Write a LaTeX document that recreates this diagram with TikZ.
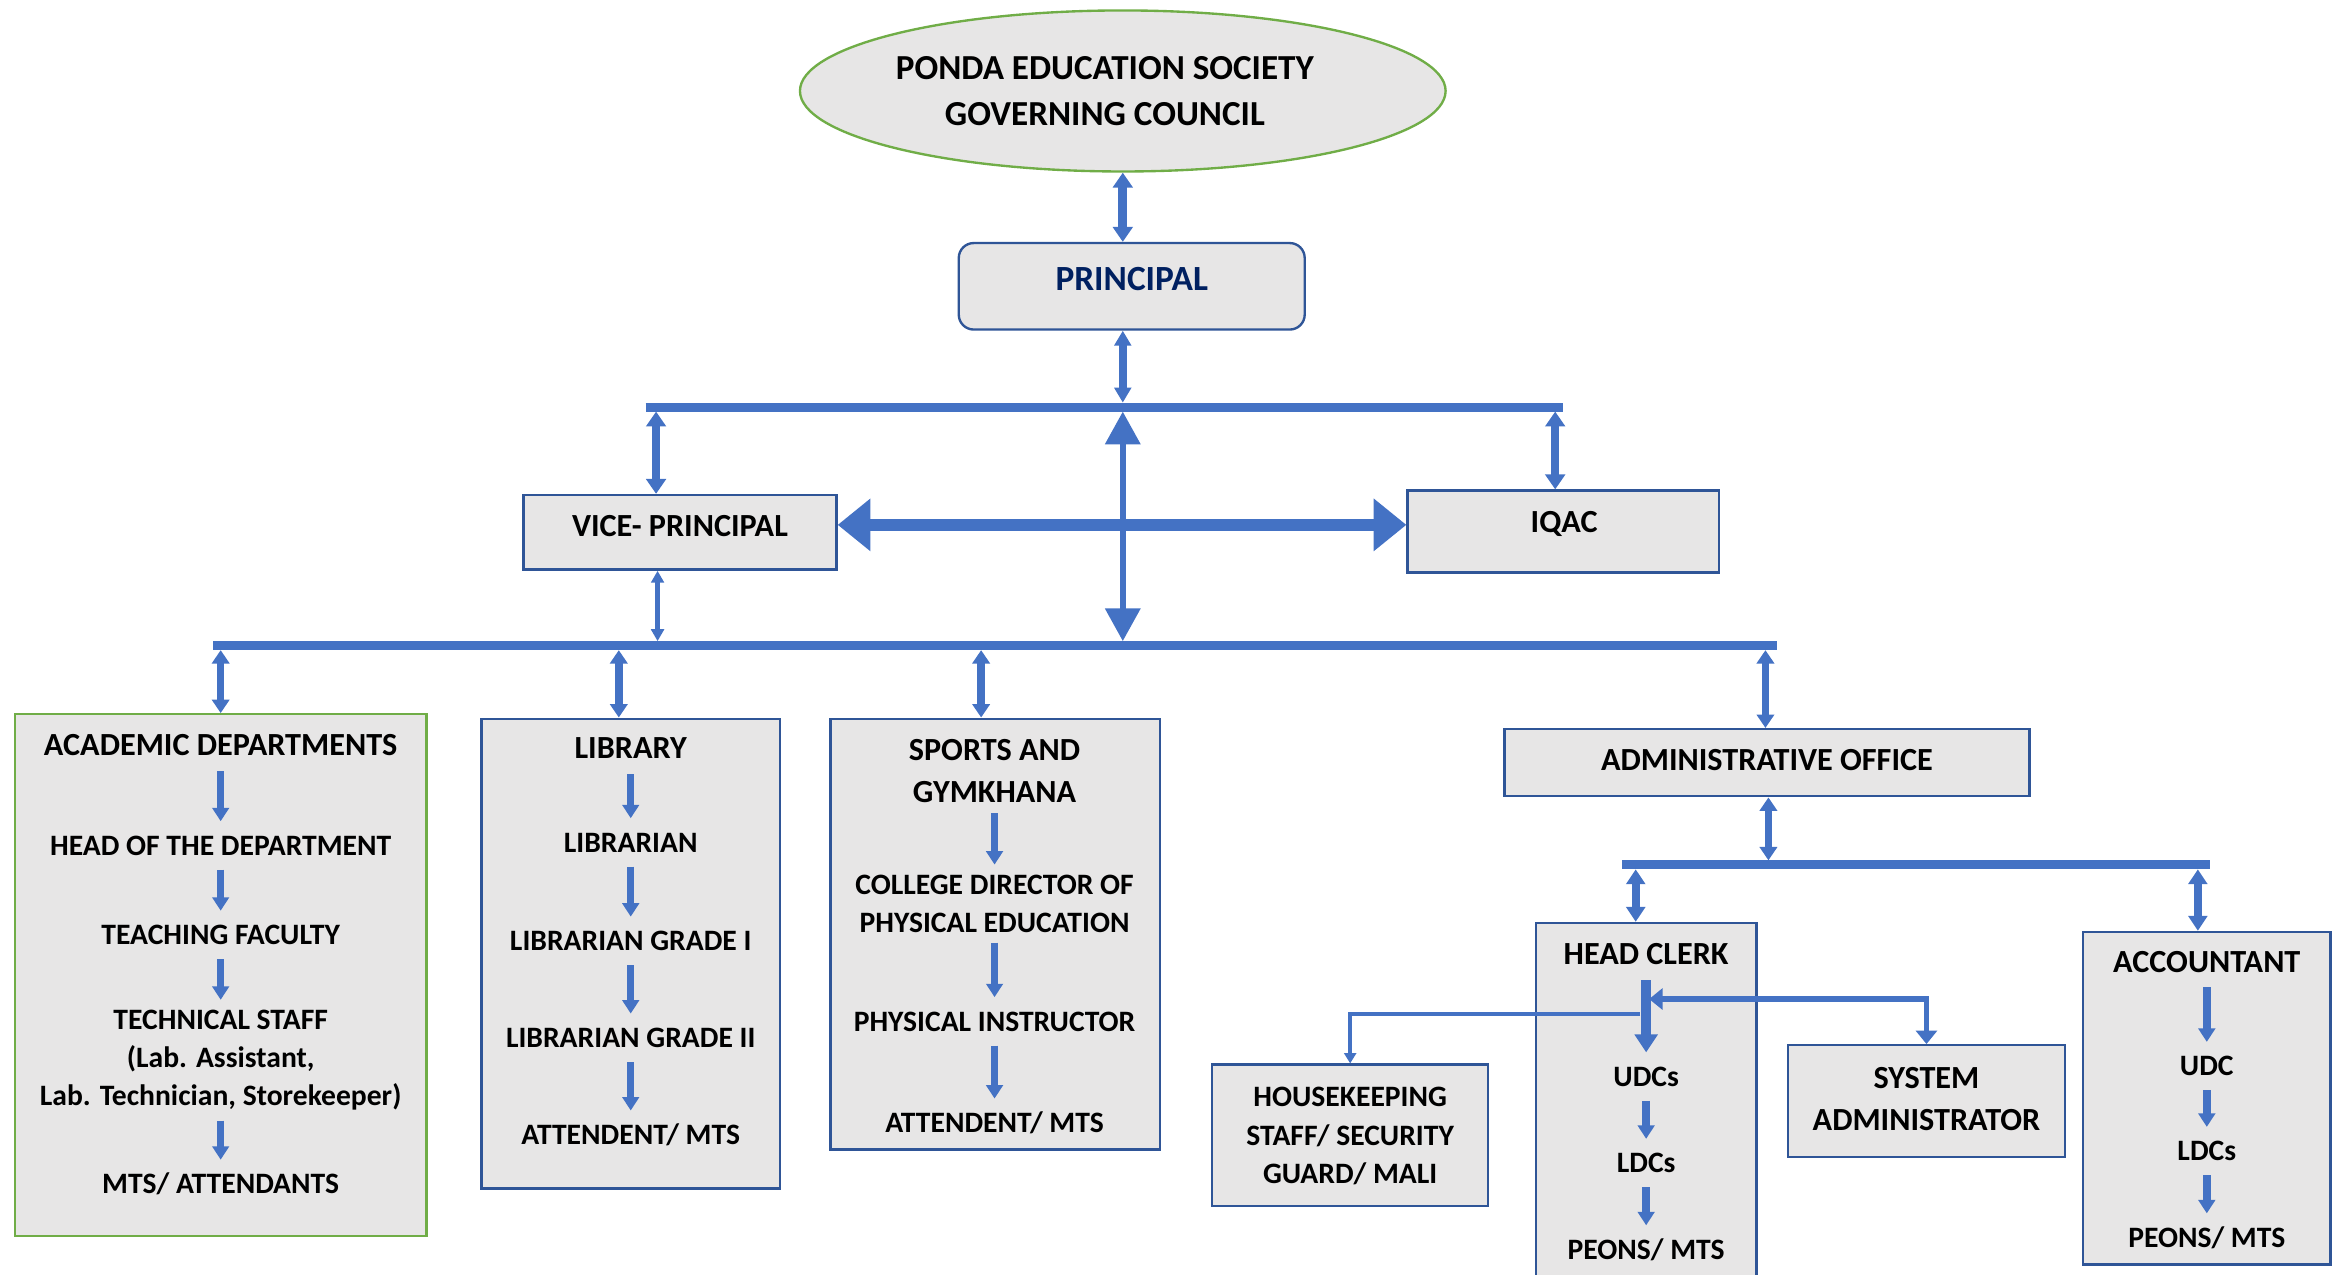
\documentclass[tikz,border=0pt]{standalone}
\usepackage{fontspec}
\setmainfont{Carlito}
\usetikzlibrary{arrows.meta,shapes.geometric}
\definecolor{arrowblue}{HTML}{4472C4}
\definecolor{edgeblue}{HTML}{2F5597}
\definecolor{boxgray}{HTML}{E7E6E6}
\definecolor{leafgreen}{HTML}{70AD47}
\definecolor{navy}{HTML}{002060}
\tikzset{
  frame/.style={rectangle, draw=edgeblue, line width=0.9pt, fill=boxgray, inner sep=0pt},
  txt/.style={font=\bfseries\fontsize{11.3}{14.6}\selectfont, align=center, inner sep=0pt, outer sep=1.35mm},
  item/.style={txt, text height=3.2mm, text depth=0.6mm},
  bigtxt/.style={txt, font=\bfseries\fontsize{12.3}{16.3}\selectfont},
  head/.style={bigtxt, text height=3.5mm, text depth=0.7mm},
  bar/.style={draw=arrowblue, line width=1.2mm},
  twoway/.style n args={3}{draw=arrowblue, line width=#1, >={Triangle[length=#2, width=#3]}, <->},
  oneway/.style n args={3}{draw=arrowblue, line width=#1, >={Triangle[length=#2, width=#3]}, ->},
  down/.style={oneway={1mm}{1.8mm}{2.2mm}}
}
\begin{document}
\begin{tikzpicture}[x=0.2mm, y=-0.2mm]
  \useasboundingbox (0,0) rectangle (1568,855);

  \node[ellipse, draw=leafgreen, line width=0.9pt, fill=boxgray, minimum width=86.6mm, minimum height=21.6mm, inner sep=0pt] (pes) at (753,61) {};
  \node[txt, font=\bfseries\fontsize{13.4}{17.6}\selectfont] (pestext) at (741,61) {PONDA EDUCATION SOCIETY\\GOVERNING COUNCIL};

  \node[frame, rounded corners=2mm, minimum width=46.4mm, minimum height=11.6mm] (prin) at (759,192) {};
  \node[head, font=\bfseries\fontsize{13.5}{16}\selectfont, text=navy] (printext) at (759,188) {PRINCIPAL};

  \node[frame, minimum width=42mm, minimum height=10mm] (vp) at (456,357) {};
  \node[head] (vptext) at (456,353) {VICE- PRINCIPAL};
  \node[frame, minimum width=41.8mm, minimum height=11mm] (iqac) at (1048.5,356.5) {};
  \node[head] (iqactext) at (1049,350) {IQAC};

  \node[frame, draw=leafgreen, minimum width=55.2mm, minimum height=70mm] (acad) at (148,654) {};
  \node[head] (acad1) at (148,500) {ACADEMIC DEPARTMENTS};
  \node[item] (acad2) at (148,567) {HEAD OF THE DEPARTMENT};
  \node[item] (acad3) at (148,627) {TEACHING FACULTY};
  \node[txt] (acad4) at (148,711) {TECHNICAL STAFF\\(Lab. Assistant,\\Lab. Technician, Storekeeper)};
  \node[item] (acad5) at (148,794) {MTS/ ATTENDANTS};

  \node[frame, minimum width=40mm, minimum height=63mm] (lib) at (423,639.5) {};
  \node[head] (lib1) at (423,502) {LIBRARY};
  \node[item] (lib2) at (423,565) {LIBRARIAN};
  \node[item] (lib3) at (423,631) {LIBRARIAN GRADE I};
  \node[item] (lib4) at (423,696) {LIBRARIAN GRADE II};
  \node[item] (lib5) at (423,761) {ATTENDENT/ MTS};

  \node[frame, minimum width=44.2mm, minimum height=57.8mm] (spo) at (667.5,626.5) {};
  \node[bigtxt] (spo1) at (667,517) {SPORTS AND\\GYMKHANA};
  \node[txt] (spo2) at (667,606) {COLLEGE DIRECTOR OF\\PHYSICAL EDUCATION};
  \node[item] (spo3) at (667,685) {PHYSICAL INSTRUCTOR};
  \node[item] (spo4) at (667,753) {ATTENDENT/ MTS};

  \node[frame, minimum width=70.4mm, minimum height=9mm] (adm) at (1185,511.5) {};
  \node[head] (admtext) at (1185,510) {ADMINISTRATIVE OFFICE};

  \node[frame, minimum width=29.6mm, minimum height=48.6mm] (hc) at (1104,740.5) {};
  \node[head] (hc1) at (1104,640) {HEAD CLERK};
  \node[item] (hc2) at (1104,722) {UDCs};
  \node[item] (hc3) at (1104,780) {LDCs};
  \node[item] (hc4) at (1104,838) {PEONS/ MTS};

  \node[frame, minimum width=37mm, minimum height=19mm] (hk) at (905.5,761.5) {};
  \node[txt] (hktext) at (905.5,762) {HOUSEKEEPING\\STAFF/ SECURITY\\GUARD/ MALI};

  \node[frame, minimum width=37.2mm, minimum height=15mm] (sys) at (1292,738.5) {};
  \node[bigtxt] (systext) at (1292,737) {SYSTEM\\ADMINISTRATOR};

  \node[frame, minimum width=33.2mm, minimum height=44.6mm] (acc) at (1480,736.5) {};
  \node[head] (acc1) at (1480,645) {ACCOUNTANT};
  \node[item] (acc2) at (1480,715) {UDC};
  \node[item] (acc3) at (1480,772) {LDCs};
  \node[item] (acc4) at (1480,830) {PEONS/ MTS};

  \coordinate (tl) at (433,273);
  \coordinate (tr) at (1048,273);
  \coordinate (tc) at (753,273);
  \coordinate (tv) at (440,273);
  \coordinate (ti) at (1043,273);
  \coordinate (bl) at (143,433);
  \coordinate (br) at (1192,433);
  \coordinate (bc) at (753,433);
  \coordinate (bv) at (441,433);
  \coordinate (ba) at (148,433);
  \coordinate (bb) at (415,433);
  \coordinate (bs) at (658,433);
  \coordinate (bo) at (1184,433);
  \coordinate (al) at (1088,580);
  \coordinate (ar) at (1482,580);
  \coordinate (ac) at (1186,580);
  \coordinate (ah) at (1097,580);
  \coordinate (aa) at (1474,580);
  \coordinate (hkj) at (1100,680);
  \coordinate (syj) at (1106,670);

  \begin{scope}
    \draw[bar] (tl) -- (tr);
    \draw[bar] (bl) -- (br);
    \draw[bar] (al) -- (ar);
    \draw[twoway={1.2mm}{2mm}{2.6mm}] (pes.south) -- (pes.south |- prin.north);
    \draw[twoway={1mm}{2mm}{2.2mm}, shorten >=0.6mm] (pes.south |- prin.south) -- (tc);
    \draw[twoway={1.1mm}{2mm}{2.6mm}, shorten <=0.6mm] (tv) -- (tv |- vp.north);
    \draw[twoway={1.1mm}{2mm}{2.6mm}, shorten <=0.6mm] (ti) -- (ti |- iqac.north);
    \draw[twoway={0.8mm}{4.4mm}{4.6mm}, shorten <=0.6mm, shorten >=0.6mm] (tc) -- (bc);
    \draw[twoway={1.6mm}{4.4mm}{6.8mm}] ([yshift=1mm]vp.east) -- ([yshift=1mm]vp.east -| iqac.west);
    \draw[twoway={0.6mm}{1.6mm}{1.7mm}, shorten >=0.6mm] (bv |- vp.south) -- (bv);
    \draw[twoway={1mm}{1.8mm}{2.3mm}, shorten <=0.6mm] (ba) -- (ba |- acad.north);
    \draw[twoway={1mm}{1.8mm}{2.3mm}, shorten <=0.6mm] (bb) -- (bb |- lib.north);
    \draw[twoway={1mm}{1.8mm}{2.3mm}, shorten <=0.6mm] (bs) -- (bs |- spo.north);
    \draw[twoway={1mm}{1.8mm}{2.3mm}, shorten <=0.6mm] (bo) -- (bo |- adm.north);
    \draw[twoway={1mm}{1.8mm}{2.3mm}, shorten >=0.6mm] (ac |- adm.south) -- (ac);
    \draw[twoway={1.1mm}{2mm}{2.5mm}, shorten <=0.6mm] (ah) -- (ah |- hc.north);
    \draw[twoway={1.1mm}{2mm}{2.5mm}, shorten <=0.6mm] (aa) -- (aa |- acc.north);
  \end{scope}

  \begin{scope}
    \draw[down] (acad1) -- (acad2);
    \draw[down] (acad2) -- (acad3);
    \draw[down] (acad3) -- (acad4);
    \draw[down] (acad4) -- (acad5);
    \draw[down] (lib1) -- (lib2);
    \draw[down] (lib2) -- (lib3);
    \draw[down] (lib3) -- (lib4);
    \draw[down] (lib4) -- (lib5);
    \draw[down] (spo1) -- (spo2);
    \draw[down] (spo2) -- (spo3);
    \draw[down] (spo3) -- (spo4);
    \draw[oneway={0.6mm}{1.4mm}{1.6mm}] (hkj) -| (hk.north);
    \draw[twoway={0.8mm}{1.8mm}{2.8mm}] (syj) -| (sys.north);
    \draw[oneway={1.4mm}{2.4mm}{3mm}] (hc1) -- (hc2);
    \draw[down] (hc2) -- (hc3);
    \draw[down] (hc3) -- (hc4);
    \draw[down] (acc1) -- (acc2);
    \draw[down] (acc2) -- (acc3);
    \draw[down] (acc3) -- (acc4);
  \end{scope}
\end{tikzpicture}
\end{document}
